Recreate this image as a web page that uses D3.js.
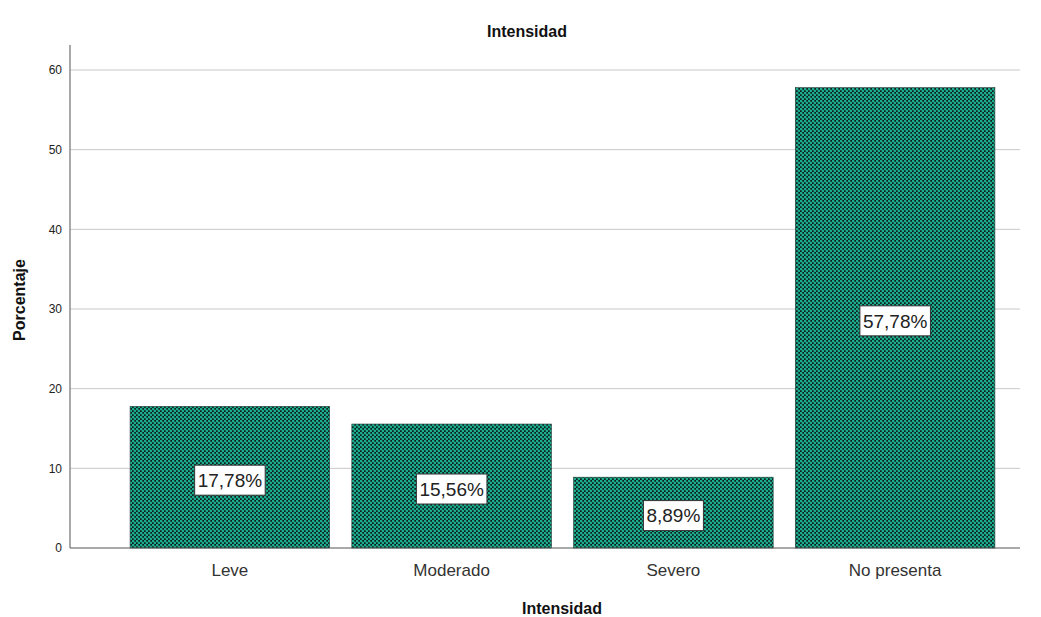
<!DOCTYPE html>
<html>
<head>
<meta charset="utf-8">
<script src="https://cdn.jsdelivr.net/npm/d3@7"></script>
<style>
  body { margin: 0; background: #fff; }
  text { font-family: "Liberation Sans", Arial, sans-serif; }
</style>
</head>
<body>
<svg width="1041" height="617"></svg>
<script>
    const categories = ['Leve', 'Moderado', 'Severo', 'No presenta'];
    const percents = [17.78, 15.56, 8.89, 57.78];
    const yTicks = [0, 10, 20, 30, 40, 50, 60];

    const svg = d3.select("svg");
    const plotLeft = 70, plotRight = 1020, plotTop = 45, plotBottom = 548;

    // crosshatch-like fill
    const defs = svg.append("defs");
    const pat = defs.append("pattern")
        .attr("id", "hatch")
        .attr("patternUnits", "userSpaceOnUse")
        .attr("width", 4).attr("height", 4);
    pat.append("rect").attr("width", 4).attr("height", 4).attr("fill", "#0b1f1b");
    pat.append("circle").attr("cx", 1).attr("cy", 1).attr("r", 1.4).attr("fill", "#1cab8e");
    pat.append("circle").attr("cx", 3).attr("cy", 3).attr("r", 1.4).attr("fill", "#1cab8e");

    const xScale = d3.scaleBand().domain(categories).range([119, 1006])
        .paddingInner(0.1).paddingOuter(0.05);
    const yScale = d3.scaleLinear().domain([0, 60]).range([plotBottom, 70]);

    // gridlines
    svg.append("g").selectAll("line")
        .data(yTicks.filter(d => d > 0))
        .enter().append("line")
        .attr("x1", plotLeft).attr("x2", plotRight)
        .attr("y1", d => yScale(d)).attr("y2", d => yScale(d))
        .attr("stroke", "#c8c8c8").attr("stroke-width", 1);

    // y axis
    const yAxis = svg.append("g")
        .attr("transform", "translate(" + plotLeft + ",0)")
        .call(d3.axisLeft(yScale).tickValues(yTicks).tickSize(0).tickPadding(8));
    yAxis.select(".domain").remove();
    yAxis.selectAll("text").attr("font-size", "12px").attr("fill", "#222")
        .style("font-family", "'Liberation Sans', Arial, sans-serif");
    svg.append("line")
        .attr("x1", plotLeft).attr("x2", plotLeft).attr("y1", plotTop).attr("y2", plotBottom)
        .attr("stroke", "#8c8c8c").attr("stroke-width", 1.5);

    // bars
    svg.append("g").selectAll("rect")
        .data(categories)
        .enter().append("rect")
        .attr("x", d => xScale(d))
        .attr("y", (d, i) => yScale(percents[i]))
        .attr("width", xScale.bandwidth())
        .attr("height", (d, i) => plotBottom - yScale(percents[i]))
        .attr("fill", "url(#hatch)")
        .attr("stroke", "#1b3b35").attr("stroke-width", 0.6);

    // x axis
    const xAxis = svg.append("g")
        .attr("transform", "translate(0," + plotBottom + ")")
        .call(d3.axisBottom(xScale).tickSize(0).tickPadding(16));
    xAxis.select(".domain").remove();
    xAxis.selectAll("text").attr("font-size", "17px").attr("fill", "#333")
        .style("font-family", "'Liberation Sans', Arial, sans-serif");
    svg.append("line")
        .attr("x1", plotLeft).attr("x2", plotRight).attr("y1", plotBottom).attr("y2", plotBottom)
        .attr("stroke", "#555").attr("stroke-width", 1.2);

    // value labels
    const labels = svg.append("g").selectAll("g")
        .data(categories)
        .enter().append("g")
        .attr("transform", (d, i) => "translate(" + (xScale(d) + xScale.bandwidth() / 2) + "," +
            ((yScale(percents[i]) + plotBottom) / 2 + 3) + ")");
    labels.append("text")
        .attr("text-anchor", "middle")
        .attr("dy", "0.36em")
        .attr("font-size", "19px")
        .attr("fill", "#222")
        .text((d, i) => percents[i].toFixed(2).replace('.', ',') + '%');
    labels.each(function() {
        const g = d3.select(this);
        const bb = g.select("text").node().getBBox();
        g.insert("rect", "text")
            .attr("x", bb.x - 3).attr("y", -15)
            .attr("width", bb.width + 6).attr("height", 30)
            .attr("fill", "#fff").attr("stroke", "#333").attr("stroke-width", 1);
    });

    // titles
    svg.append("text").attr("x", 527).attr("y", 37)
        .attr("text-anchor", "middle").attr("font-size", "16px").attr("font-weight", "bold")
        .attr("fill", "#111").text("Intensidad");
    svg.append("text").attr("x", 562).attr("y", 614)
        .attr("text-anchor", "middle").attr("font-size", "16px").attr("font-weight", "bold")
        .attr("fill", "#111").text("Intensidad");
    svg.append("text")
        .attr("transform", "translate(25,300) rotate(-90)")
        .attr("text-anchor", "middle").attr("font-size", "16px").attr("font-weight", "bold")
        .attr("fill", "#111").text("Porcentaje");
</script>
</body>
</html>
